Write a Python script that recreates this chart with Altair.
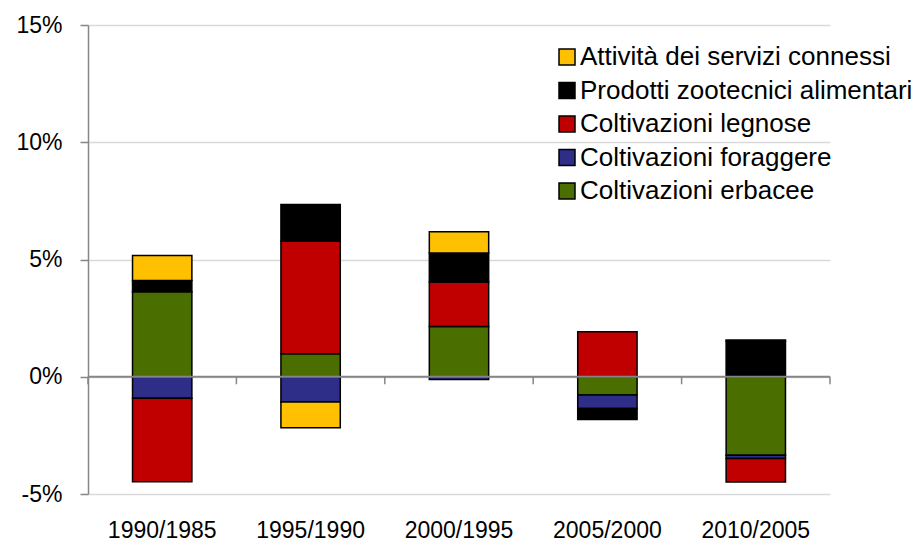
import altair as alt
import pandas as pd

periods = ["1990/1985", "1995/1990", "2000/1995", "2005/2000", "2010/2005"]
# stacking order (bottom/first to top/last)
series = ["Coltivazioni erbacee", "Coltivazioni foraggere", "Coltivazioni legnose",
          "Prodotti zootecnici alimentari", "Attività dei servizi connessi"]
erbacee = [3.63, 0.98, 2.14, -0.78, -3.35]
foraggere = [-0.92, -1.08, -0.12, -0.57, -0.14]
legnose = [-3.56, 4.80, 1.90, 1.92, -1.00]
zootecnici = [0.47, 1.57, 1.24, -0.47, 1.52]
servizi = [1.07, -1.10, 0.90, 0.0, 0.05]
legend_order = ["Attività dei servizi connessi", "Prodotti zootecnici alimentari",
                "Coltivazioni legnose", "Coltivazioni foraggere", "Coltivazioni erbacee"]
legend_colors = ["#FFC000", "#000000", "#C00000", "#2E2D88", "#4A6E00"]
y_ticks = [-5, 0, 5, 10, 15]
boundaries = [0, 1, 2, 3, 4, 5]

rows = []
for si, (name, vals) in enumerate(zip(series, [erbacee, foraggere, legnose, zootecnici, servizi])):
    for p, v in zip(periods, vals):
        if v != 0:
            rows.append({"period": p, "series": name, "value": v, "idx": si})
df = pd.DataFrame(rows)

FONT = "Liberation Sans"

bars = alt.Chart(df).mark_bar(stroke="black", strokeWidth=1.5).encode(
    x=alt.X("period:N", sort=periods,
            scale=alt.Scale(paddingInner=0.6, paddingOuter=0.3),
            axis=alt.Axis(title=None, domain=False, ticks=False, labelAngle=0,
                          labelPadding=25, labelFontSize=23, labelFont=FONT,
                          labelColor="#000000")),
    y=alt.Y("value:Q", stack="zero",
            scale=alt.Scale(domain=[-5, 15], nice=False),
            axis=alt.Axis(title=None, values=y_ticks, labelExpr="datum.value + '%'",
                          grid=True, gridColor="#D9D9D9", gridWidth=1.5,
                          domainColor="#868686", domainWidth=1.5,
                          tickColor="#868686", tickSize=8, tickWidth=1.5,
                          labelPadding=18, labelFontSize=23, labelFont=FONT,
                          labelColor="#000000")),
    color=alt.Color("series:N", scale=alt.Scale(domain=legend_order, range=legend_colors),
                    legend=alt.Legend(title=None, orient="none", legendX=466, legendY=19,
                                      symbolType="square", symbolSize=256,
                                      symbolStrokeColor="black", symbolStrokeWidth=1.5,
                                      symbolOpacity=1, labelFontSize=26, labelFont=FONT,
                                      labelColor="#000000", rowPadding=7.5, labelOffset=0,
                                      labelLimit=400)),
    order=alt.Order("idx:Q"),
)

zero_df = pd.DataFrame({"y": [0]})
zero = alt.Chart(zero_df).mark_rule(color="#868686", strokeWidth=2).encode(y="y:Q")

tick_df = pd.DataFrame({"b": boundaries, "y0": [0] * 6, "y1": [-0.32] * 6})
ticks = alt.Chart(tick_df).mark_rule(color="#868686", strokeWidth=1.5).encode(
    x=alt.X("b:Q", scale=alt.Scale(domain=[0, 5], nice=False), axis=None),
    y="y0:Q", y2="y1:Q",
)

chart = alt.layer(bars, zero, ticks).resolve_scale(x="independent").properties(
    width=742, height=469, autosize="none",
    padding={"left": 80, "top": 17, "right": 83, "bottom": 50},
).configure_view(stroke=None)

chart.save("out.html", embed_options={"renderer": "svg", "actions": False})
